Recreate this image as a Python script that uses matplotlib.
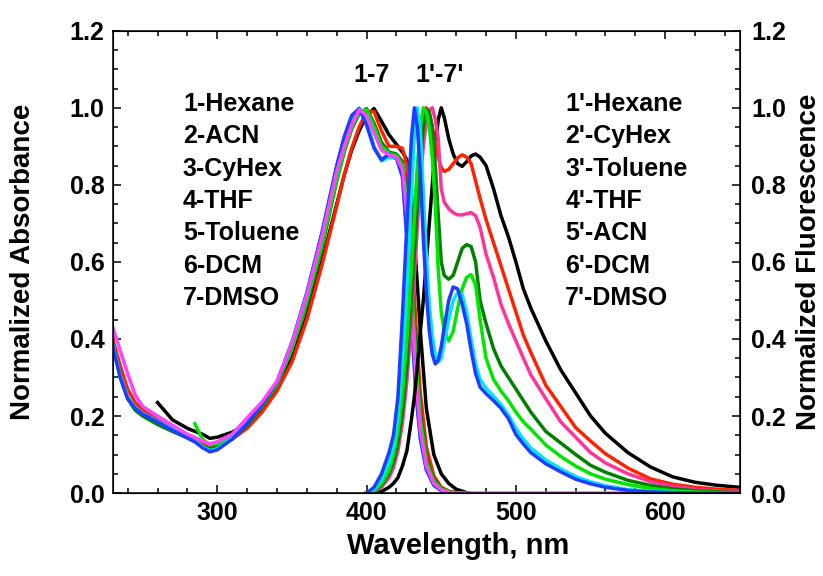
import numpy as np
import matplotlib.pyplot as plt
from matplotlib.ticker import MultipleLocator, FormatStrFormatter

plt.rcParams['font.family'] = ['Liberation Sans', 'DejaVu Sans']
plt.rcParams['font.weight'] = 'bold'

nan = np.nan

## absorption spectra (normalized)
abs_wl = [230, 235, 240, 245, 250, 260, 270, 280, 285, 290, 295, 300, 310, 320,
          330, 340, 350, 360, 370, 380, 385, 390, 395, 400, 405, 410, 415, 420,
          424, 427, 430, 433, 436, 440, 445, 450, 455, 460, 468, 580]

abs_black = [nan, nan, nan, nan, nan, .235, .19, .168, .16, .153, .142, .145, .158, .18,
             .22, .275, .35, .46, .60, .75, .825, .89, .94, .98, .998, .965, .93, .905,
             .885, .865, .78, .60, .42, .22, .10, .05, .025, .01, 0, nan]
abs_red = [.40, .33, .27, .235, .215, .19, .17, .15, .14, .13, .12, .123, .14, .168,
           .21, .265, .34, .45, .59, .745, .825, .895, .95, .99, .99, .94, .90, .90,
           .895, .85, .66, .44, .26, .12, .045, .015, .005, .001, 0, nan]
abs_green = [.39, .30, .245, .215, .20, .178, .16, .143, .133, .122, .115, .12, .14, .175,
             .225, .28, .375, .49, .635, .81, .885, .945, .985, .998, .96, .91, .885, .88,
             .86, .78, .58, .37, .21, .09, .035, .012, .004, 0, 0, nan]
abs_lime = [nan, nan, nan, nan, nan, nan, nan, nan, .18, .14, .125, .128, .148, .183,
            .228, .283, .375, .50, .645, .815, .89, .95, .99, .995, .95, .90, .882, .876,
            .85, .75, .54, .34, .19, .08, .03, .01, .003, 0, 0, nan]
abs_cyan = [.385, .305, .25, .222, .207, .187, .166, .146, .136, .121, .11, .115, .143, .182,
            .232, .29, .392, .52, .672, .848, .92, .975, .999, .965, .90, .862, .872, .868,
            .825, .67, .46, .27, .145, .062, .021, .006, .001, 0, 0, nan]
abs_blue = [.38, .30, .245, .22, .205, .185, .163, .143, .133, .118, .107, .112, .14, .18,
            .23, .288, .39, .52, .675, .85, .925, .98, .998, .955, .895, .865, .88, .87,
            .82, .66, .45, .26, .14, .06, .02, .006, .001, 0, 0, nan]
abs_magenta = [.43, .37, .31, .255, .225, .20, .176, .153, .144, .135, .128, .133, .153, .195,
               .237, .29, .39, .515, .665, .835, .90, .955, .995, .98, .935, .89, .878, .872,
               .84, .72, .50, .30, .16, .07, .025, .008, .002, 0, 0, 0]

## fluorescence spectra (normalized)
em_wl = [400, 405, 410, 415, 418, 421, 424, 427, 430, 432, 434, 436, 438, 440, 442,
         444, 446, 448, 450, 452, 455, 458, 461, 464, 467, 470, 473, 476, 480, 485,
         490, 495, 500, 505, 510, 520, 530, 540, 550, 560, 575, 590, 605, 620, 635, 650]

em_black = [0, .002, .004, .015, .025, .04, .07, .11, .19, .25, .33, .42, .50, .60, .70,
            .80, .90, .97, 1.0, .975, .92, .88, .855, .848, .86, .875, .88, .872, .85, .79,
            .72, .665, .60, .53, .48, .395, .32, .26, .20, .155, .105, .068, .042, .028, .02, .015]
em_red = [0, .006, .025, .06, .10, .16, .26, .40, .58, .70, .82, .92, .98, 1.0, .985,
          .95, .91, .87, .845, .835, .84, .855, .87, .878, .872, .855, .81, .765, .71, .65,
          .59, .53, .47, .41, .365, .28, .225, .17, .135, .102, .065, .037, .023, .015, .01, .007]
em_pink = [0, .003, .015, .04, .065, .11, .18, .29, .44, .56, .69, .81, .90, .96, .995,
           1.0, .97, .92, .79, .755, .738, .728, .722, .722, .725, .728, .72, .69, .62, .56,
           .49, .44, .395, .35, .307, .245, .185, .145, .105, .078, .05, .03, .018, .01, .005, .003]
em_green = [0, .005, .02, .05, .08, .13, .21, .33, .50, .62, .75, .86, .95, .995, .99,
            .95, .85, .72, .60, .565, .555, .565, .60, .635, .645, .64, .60, .50, .44, .375,
            .33, .30, .27, .24, .21, .16, .13, .10, .072, .054, .033, .02, .011, .006, .003, .001]
em_lime = [0, .006, .025, .06, .10, .16, .26, .40, .58, .72, .85, .95, 1.0, .99, .95,
           .87, .75, .58, .47, .42, .395, .42, .48, .53, .56, .567, .54, .45, .35, .295,
           .265, .24, .21, .185, .166, .125, .095, .07, .05, .036, .022, .012, .006, .003, .001, 0]
em_cyan = [0, .01, .035, .08, .12, .20, .34, .53, .77, .93, 1.0, .94, .78, .62, .49,
           .41, .36, .34, .35, .39, .45, .50, .52, .515, .47, .40, .335, .295, .272, .252,
           .23, .203, .168, .14, .117, .086, .063, .043, .029, .019, .009, .004, .002, .001, 0, 0]
em_blue = [0, .015, .05, .105, .15, .25, .46, .70, .92, 1.0, .95, .83, .66, .52, .42,
           .36, .335, .345, .38, .43, .50, .535, .53, .49, .44, .37, .31, .275, .258, .24,
           .22, .193, .152, .127, .105, .076, .055, .036, .024, .015, .007, .003, .001, 0, 0, 0]

abs_labels = ["1-Hexane", "2-ACN", "3-CyHex", "4-THF", "5-Toluene", "6-DCM", "7-DMSO"]
em_labels = ["1'-Hexane", "2'-CyHex", "3'-Toluene", "4'-THF", "5'-ACN", "6'-DCM", "7'-DMSO"]

abs_series = [
    (abs_black, "#000000"),
    (abs_red, "#ff2200"),
    (abs_green, "#008000"),
    (abs_lime, "#00e600"),
    (abs_cyan, "#00e5ff"),
    (abs_blue, "#1f3cff"),
    (abs_magenta, "#ff44ff"),
]
em_series = [
    (em_black, "#000000"),
    (em_red, "#ff2200"),
    (em_pink, "#ff3399"),
    (em_green, "#008000"),
    (em_lime, "#00e600"),
    (em_cyan, "#00e5ff"),
    (em_blue, "#1f3cff"),
]

fig = plt.figure(figsize=(8.23, 5.76), dpi=100)
ax = fig.add_axes([0.137, 0.144, 0.762, 0.8026])

for ys, c in abs_series:
    ax.plot(abs_wl, ys, color=c, lw=2.5, solid_joinstyle="round")
for ys, c in em_series:
    ax.plot(em_wl, ys, color=c, lw=2.5, solid_joinstyle="round")

ax.set_xlim(230, 650)
ax.set_ylim(0, 1.2)
ax.xaxis.set_major_locator(MultipleLocator(100))
ax.xaxis.set_minor_locator(MultipleLocator(20))
ax.yaxis.set_major_locator(MultipleLocator(0.2))
ax.yaxis.set_minor_locator(MultipleLocator(0.05))
ax.yaxis.set_major_formatter(FormatStrFormatter("%.1f"))
ax.tick_params(which="both", direction="in", top=True, right=False, width=1.1,
               labelsize=18, pad=6)
ax.tick_params(which="major", length=6)
ax.tick_params(which="minor", length=3.5)
for s in ax.spines.values():
    s.set_linewidth(1.1)

ax2 = ax.twinx()
ax2.set_ylim(0, 1.2)
ax2.yaxis.set_major_locator(MultipleLocator(0.2))
ax2.yaxis.set_minor_locator(MultipleLocator(0.05))
ax2.yaxis.set_major_formatter(FormatStrFormatter("%.1f"))
ax2.tick_params(which="both", direction="in", width=1.1, labelsize=18, pad=8)
ax2.tick_params(which="major", length=6)
ax2.tick_params(which="minor", length=3.5)

ax.set_xlabel("Wavelength, nm", fontsize=21, fontweight="bold")
ax.xaxis.set_label_coords(0.55, -0.085)
ax.set_ylabel("Normalized Absorbance", fontsize=20, fontweight="bold")
ax.yaxis.set_label_coords(-0.122, 0.5)
ax2.set_ylabel("Normalized Fluorescence", fontsize=20, fontweight="bold", rotation=90)
ax2.yaxis.set_label_coords(1.089, 0.5)

# solvent lists
for i, (a, e) in enumerate(zip(abs_labels, em_labels)):
    y = 1.011 - i * 0.0843
    ax.text(277, y, a, fontsize=18, fontweight="bold", va="center", ha="left")
    ax.text(533, y, e, fontsize=18, fontweight="bold", va="center", ha="left")

ax.text(403, 1.085, "1-7", fontsize=18, fontweight="bold", ha="center", va="center")
ax.text(449, 1.085, "1'-7'", fontsize=18, fontweight="bold", ha="center", va="center")

fig.savefig("out.png", dpi=100)
